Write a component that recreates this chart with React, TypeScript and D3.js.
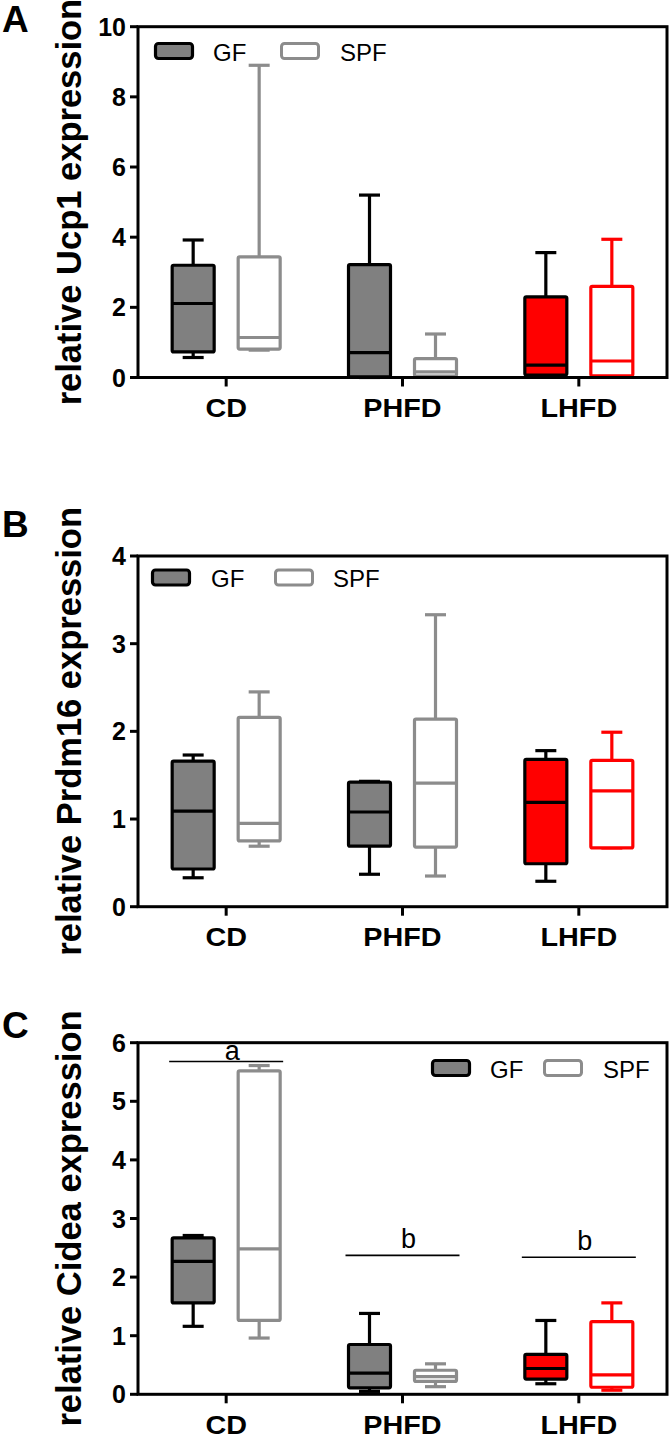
import React from "react";
import * as d3 from "d3";

// ---------- data ----------
const categories = ["CD", "PHFD", "LHFD"];
const groups = ["GF", "SPF"];

// box stats per category: [min, q1, median, q3, max]
const ucp1GF = [[0.57, 0.73, 2.11, 3.2, 3.92], [0.0, 0.02, 0.71, 3.22, 5.2], [0.05, 0.07, 0.35, 2.3, 3.56]];
const ucp1SPF = [[0.78, 0.81, 1.14, 3.44, 8.9], [0.02, 0.04, 0.16, 0.54, 1.24], [0.03, 0.05, 0.47, 2.6, 3.94]];

const prdm16GF = [[0.33, 0.43, 1.09, 1.66, 1.73], [0.37, 0.69, 1.08, 1.42, 1.43], [0.29, 0.49, 1.19, 1.68, 1.78]];
const prdm16SPF = [[0.69, 0.75, 0.95, 2.16, 2.45], [0.35, 0.68, 1.41, 2.14, 3.33], [0.67, 0.67, 1.32, 1.67, 1.99]];

const cideaGF = [[1.16, 1.56, 2.27, 2.67, 2.71], [0.05, 0.11, 0.36, 0.85, 1.38], [0.18, 0.26, 0.44, 0.68, 1.26]];
const cideaSPF = [[0.96, 1.26, 2.48, 5.52, 5.61], [0.13, 0.22, 0.3, 0.41, 0.52], [0.07, 0.12, 0.33, 1.24, 1.56]];

const ucp1Ticks = [0, 2, 4, 6, 8, 10];
const prdm16Ticks = [0, 1, 2, 3, 4];
const cideaTicks = [0, 1, 2, 3, 4, 5, 6];

// significance letters for Cidea: category, letter, line value
const cideaSigCats = ["CD", "PHFD", "LHFD"];
const cideaSigLetters = ["a", "b", "b"];
const cideaSigValues = [5.68, 2.37, 2.34];

// ---------- styling ----------
const FONT = "Arial, 'Liberation Sans', Helvetica, sans-serif";
const GREY_FILL = "#808080";
const SPF_GREY = "#8c8c8c";
const RED = "#ff0000";

const X0 = 138;
const X1 = 667;

function colorsFor(cat: string, group: string) {
  const red = cat === "LHFD";
  if (group === "GF") return { fill: red ? RED : GREY_FILL, stroke: "#000" };
  return { fill: "#fff", stroke: red ? RED : SPF_GREY };
}

type PanelProps = {
  letter: string;
  label: string;
  top: number;
  bottom: number;
  max: number;
  ticks: number[];
  gf: number[][];
  spf: number[][];
  legend: { gfBox: number; gfText: number; spfBox: number; spfText: number; y: number };
  letterY: number;
  sig?: boolean;
};

function Panel(p: PanelProps) {
  const x = d3.scaleBand<string>().domain(categories).range([X0, X1]).padding(0);
  const y = d3.scaleLinear().domain([0, p.max]).range([p.bottom, p.top]);
  const off = d3.scaleOrdinal<string, number>().domain(groups).range([-33, 33]);
  const boxW = 42;
  const capW = 21;
  const data: Record<string, number[][]> = { GF: p.gf, SPF: p.spf };
  const cx = (c: string) => (x(c) as number) + x.bandwidth() / 2;

  return (
    <g>
      <text x={2} y={p.letterY} fontFamily={FONT} fontWeight="bold" fontSize={37}>
        {p.letter}
      </text>
      <text
        transform={`translate(81,${(p.top + p.bottom) / 2}) rotate(-90)`}
        textAnchor="middle"
        fontFamily={FONT}
        fontWeight="bold"
        fontSize={34.5}
      >
        {p.label}
      </text>
      {/* boxes */}
      {categories.map((c, ci) =>
        groups.map((g) => {
          const [mn, q1, md, q3, mx] = data[g][ci];
          const col = colorsFor(c, g);
          const bx = cx(c) + (off(g) as number);
          const sw = 3.2;
          return (
            <g key={c + g} stroke={col.stroke} strokeWidth={sw} fill="none">
              <line x1={bx} x2={bx} y1={y(q3)} y2={y(mx)} />
              <line x1={bx - capW / 2} x2={bx + capW / 2} y1={y(mx)} y2={y(mx)} />
              <line x1={bx} x2={bx} y1={y(q1)} y2={y(mn)} />
              <line x1={bx - capW / 2} x2={bx + capW / 2} y1={y(mn)} y2={y(mn)} />
              <rect
                x={bx - boxW / 2}
                y={y(q3)}
                width={boxW}
                height={Math.max(0.1, y(q1) - y(q3))}
                fill={col.fill}
                strokeLinejoin="round"
                rx={1.5}
              />
              <line x1={bx - boxW / 2} x2={bx + boxW / 2} y1={y(md)} y2={y(md)} />
            </g>
          );
        })
      )}
      {/* significance */}
      {p.sig &&
        cideaSigCats.map((c, i) => {
          const yy = y(cideaSigValues[i]);
          return (
            <g key={"sig" + i}>
              <line x1={cx(c) - 57} x2={cx(c) + 57} y1={yy} y2={yy} stroke="#000" strokeWidth={1.6} />
              <text
                x={cx(c) + 6}
                y={yy - (cideaSigLetters[i] === "a" ? 1 : 7)}
                textAnchor="middle"
                fontFamily={FONT}
                fontSize={27}
              >
                {cideaSigLetters[i]}
              </text>
            </g>
          );
        })}
      {/* frame */}
      <rect x={X0} y={p.top} width={X1 - X0} height={p.bottom - p.top} fill="none" stroke="#000" strokeWidth={3} />
      {/* y ticks */}
      {p.ticks.map((t) => (
        <g key={"t" + t}>
          <line x1={X0 - 8} x2={X0} y1={y(t)} y2={y(t)} stroke="#000" strokeWidth={3} />
          <text
            x={X0 - 12}
            y={y(t) + 9}
            textAnchor="end"
            fontFamily={FONT}
            fontWeight="bold"
            fontSize={25}
          >
            {t}
          </text>
        </g>
      ))}
      {/* x ticks */}
      {categories.map((c) => (
        <g key={"x" + c}>
          <line x1={cx(c)} x2={cx(c)} y1={p.bottom} y2={p.bottom + 9} stroke="#000" strokeWidth={3} />
          <text
            transform={`translate(${cx(c)},${p.bottom + 39.5}) scale(1.15,1)`}
            textAnchor="middle"
            fontFamily={FONT}
            fontWeight="bold"
            fontSize={25}
          >
            {c}
          </text>
        </g>
      ))}
      {/* legend */}
      <rect
        x={p.legend.gfBox}
        y={p.legend.y}
        width={37}
        height={15}
        rx={3}
        fill={GREY_FILL}
        stroke="#000"
        strokeWidth={3.2}
      />
      <text x={p.legend.gfText} y={p.legend.y + 17} fontFamily={FONT} fontSize={24}>
        GF
      </text>
      <rect
        x={p.legend.spfBox}
        y={p.legend.y}
        width={37}
        height={15}
        rx={3}
        fill="#fff"
        stroke={SPF_GREY}
        strokeWidth={3}
      />
      <text x={p.legend.spfText} y={p.legend.y + 17} fontFamily={FONT} fontSize={24}>
        SPF
      </text>
    </g>
  );
}

export default function App() {
  return (
    <svg
      width={671}
      height={1437}
      style={{ position: "absolute", left: 0, top: 0, background: "#fff" }}
    >
      <rect width={671} height={1437} fill="#fff" />
      <Panel
        letter="A"
        label="relative Ucp1 expression"
        top={26.7}
        bottom={377.5}
        max={10}
        ticks={ucp1Ticks}
        gf={ucp1GF}
        spf={ucp1SPF}
        legend={{ gfBox: 155.5, gfText: 213, spfBox: 281.5, spfText: 340, y: 43.5 }}
        letterY={32}
      />
      <Panel
        letter="B"
        label="relative Prdm16 expression"
        top={556}
        bottom={906.7}
        max={4}
        ticks={prdm16Ticks}
        gf={prdm16GF}
        spf={prdm16SPF}
        legend={{ gfBox: 152.5, gfText: 211, spfBox: 275.5, spfText: 333, y: 570 }}
        letterY={537}
      />
      <Panel
        letter="C"
        label="relative Cidea expression"
        top={1042.7}
        bottom={1394.3}
        max={6}
        ticks={cideaTicks}
        gf={cideaGF}
        spf={cideaSPF}
        legend={{ gfBox: 432.5, gfText: 490, spfBox: 544.5, spfText: 603, y: 1060.5 }}
        letterY={1038}
        sig
      />
    </svg>
  );
}
